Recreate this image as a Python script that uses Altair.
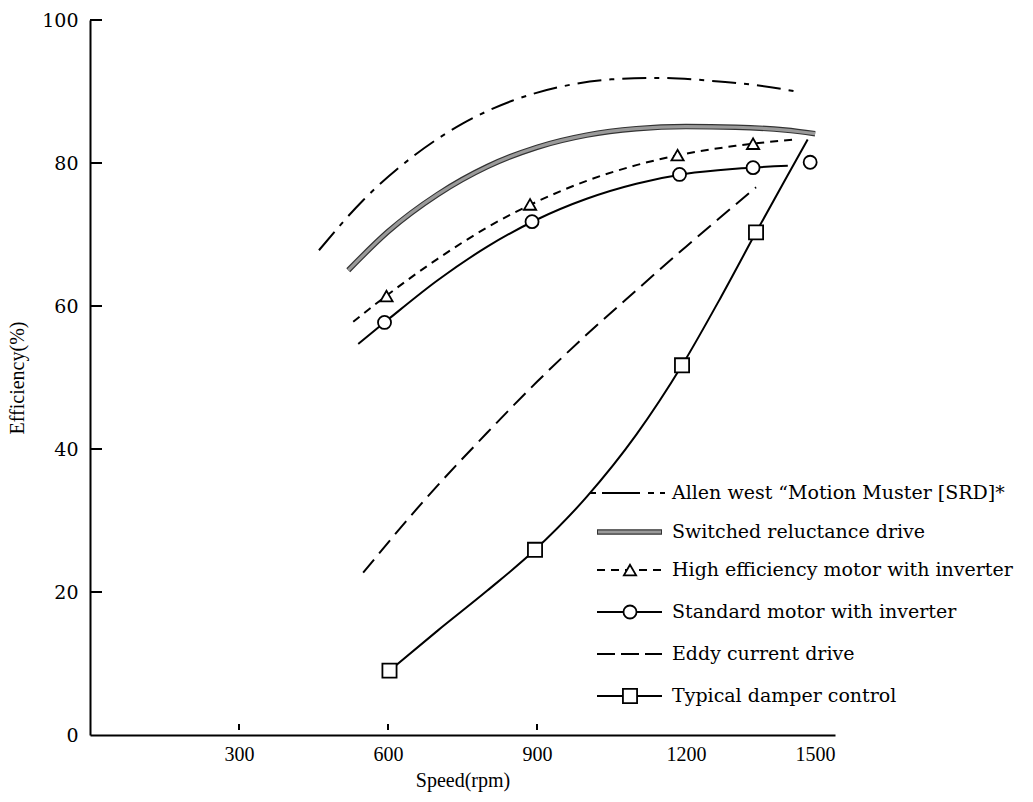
import altair as alt
import pandas as pd

# ---- data ----
allen_x = [461, 550, 650, 750, 850, 950, 1050, 1150, 1250, 1350, 1422]
allen_y = [67.8, 74.8, 80.9, 85.5, 88.7, 90.7, 91.7, 91.9, 91.5, 90.8, 90.0]

srd_x = [520, 600, 700, 800, 900, 1000, 1100, 1200, 1300, 1400, 1460]
srd_y = [65.0, 70.4, 75.6, 79.5, 82.2, 83.9, 84.8, 85.1, 85.0, 84.6, 84.1]

hem_x = [530, 600, 700, 800, 900, 1000, 1100, 1200, 1300, 1420]
hem_y = [57.8, 61.6, 66.6, 71.0, 74.6, 77.5, 79.7, 81.3, 82.4, 83.3]
hem_mx = [597, 886, 1183, 1335]
hem_my = [61.4, 74.2, 81.1, 82.7]

std_x = [540, 600, 700, 800, 900, 1000, 1100, 1200, 1300, 1405]
std_y = [54.7, 58.1, 63.6, 68.3, 72.1, 75.0, 77.1, 78.5, 79.2, 79.6]
std_mx = [593, 890, 1187, 1335, 1450]
std_my = [57.7, 71.8, 78.4, 79.35, 80.1]

eddy_x = [550, 674, 800, 900, 1000, 1100, 1200, 1341]
eddy_y = [22.7, 32.9, 42.3, 49.4, 56.0, 62.2, 68.3, 76.6]

damp_x = [603, 700, 800, 896, 1000, 1100, 1192, 1270, 1341, 1400, 1445]
damp_y = [9.0, 14.6, 20.2, 25.9, 33.3, 42.0, 51.7, 61.2, 70.3, 77.7, 83.3]
damp_mx = [603, 896, 1192, 1341]
damp_my = [9.0, 25.9, 51.7, 70.3]

x_ticks = [300, 600, 900]
x_labels = [300, 600, 900, 1200, 1500]
y_ticks = [20, 40, 60, 80, 100]
y_labels = [0, 20, 40, 60, 80, 100]

legend_labels = [
    "Allen west \u201cMotion Muster [SRD]*",
    "Switched reluctance drive",
    "High efficiency motor with inverter",
    "Standard motor with inverter",
    "Eddy current drive",
    "Typical damper control",
]

SERIF = "Liberation Serif"
LSERIF = "DejaVu Serif"
W, H = 745, 715

xs = alt.Scale(domain=[0, 1500], nice=False)
ys = alt.Scale(domain=[0, 100], nice=False)

X = alt.X("speed:Q", scale=xs, axis=alt.Axis(
    values=x_labels, format="d", ticks=False, grid=False, domainColor="black", domainWidth=2,
    labelFont=SERIF, labelFontSize=20, labelColor="black", labelPadding=9,
    title="Speed(rpm)", titleFont=SERIF, titleFontSize=20, titleFontWeight="normal",
    titleColor="black", titlePadding=6))
Y = alt.Y("eff:Q", scale=ys, axis=alt.Axis(
    values=y_labels, format="d", ticks=False, grid=False, domainColor="black", domainWidth=2,
    labelFont=LSERIF, labelFontSize=19, labelColor="black", labelPadding=12,
    title="Efficiency(%)", titleFont=SERIF, titleFontSize=20, titleFontWeight="normal",
    titleColor="black", titlePadding=14))


def df(a, b):
    return pd.DataFrame({"speed": a, "eff": b})


def line(a, b, **kw):
    return alt.Chart(df(a, b)).mark_line(interpolate="monotone", **kw).encode(x=X, y=Y)


def pts(a, b, shape, size):
    return alt.Chart(df(a, b)).mark_point(shape=shape, size=size, filled=True, fill="white",
                                          stroke="black", strokeWidth=1.8, opacity=1).encode(x=X, y=Y)


layers = [
    line(allen_x, allen_y, color="black", strokeWidth=2, strokeDash=[24, 8, 5, 8]),
    line(srd_x, srd_y, color="#333333", strokeWidth=5.5),
    line(srd_x, srd_y, color="#9a9a9a", strokeWidth=3.2),
    line(hem_x, hem_y, color="black", strokeWidth=2, strokeDash=[8, 6]),
    line(std_x, std_y, color="black", strokeWidth=2),
    line(eddy_x, eddy_y, color="black", strokeWidth=2, strokeDash=[17, 8]),
    line(damp_x, damp_y, color="black", strokeWidth=2),
    pts(hem_mx, hem_my, "triangle-up", 150),
    pts(std_mx, std_my, "circle", 170),
    pts(damp_mx, damp_my, "square", 200),
]

# inward ticks drawn from the tick value lists
layers.append(alt.Chart(pd.DataFrame({"eff": y_ticks})).mark_rule(color="black", strokeWidth=2).encode(
    y=alt.Y("eff:Q", scale=ys), x=alt.value(0), x2=alt.value(12)))
layers.append(alt.Chart(pd.DataFrame({"speed": x_ticks})).mark_rule(color="black", strokeWidth=2).encode(
    x=alt.X("speed:Q", scale=xs), y=alt.value(704), y2=alt.value(710)))

# legend
rows_y = [473, 512, 550, 592, 634, 676]
sx0, sx1, mx, tx = 507, 572, 540, 582
styles = [
    dict(strokeDash=[6, 6, 38, 8, 6, 6]),
    None,
    dict(strokeDash=[8, 6]),
    dict(),
    dict(strokeDash=[18, 6]),
    dict(),
]
shapes = [None, None, "triangle-up", "circle", None, "square"]
for lab, yy, st, shp in zip(legend_labels, rows_y, styles, shapes):
    d = pd.DataFrame({"label": [lab]})
    if st is None:
        layers.append(alt.Chart(d).mark_rule(color="#333333", strokeWidth=5.5).encode(
            x=alt.value(sx0), x2=alt.value(sx1), y=alt.value(yy)))
        layers.append(alt.Chart(d).mark_rule(color="#9a9a9a", strokeWidth=3.2).encode(
            x=alt.value(sx0 + 1), x2=alt.value(sx1 - 1), y=alt.value(yy)))
    else:
        x0 = sx0 - 7 if lab.startswith("Allen") else sx0
        x1 = sx1 + 3 if lab.startswith("Allen") else sx1
        layers.append(alt.Chart(d).mark_rule(color="black", strokeWidth=2, **st).encode(
            x=alt.value(x0), x2=alt.value(x1), y=alt.value(yy)))
    if shp:
        size = {"triangle-up": 150, "circle": 170, "square": 200}[shp]
        layers.append(alt.Chart(d).mark_point(shape=shp, size=size, filled=True, fill="white",
                                              stroke="black", strokeWidth=1.8, opacity=1).encode(
            x=alt.value(mx), y=alt.value(yy)))
    layers.append(alt.Chart(d).mark_text(align="left", baseline="middle", font=LSERIF,
                                         fontSize=19, color="black").encode(
        x=alt.value(tx), y=alt.value(yy), text="label:N"))

chart = alt.layer(*layers).properties(
    width=W, height=H,
    autosize=alt.AutoSizeParams(type="none"),
    padding={"left": 90, "top": 20, "right": 198, "bottom": 67},
    background="white",
).configure_view(stroke=None)

chart.save("out.html", embed_options={"renderer": "svg", "actions": False})
